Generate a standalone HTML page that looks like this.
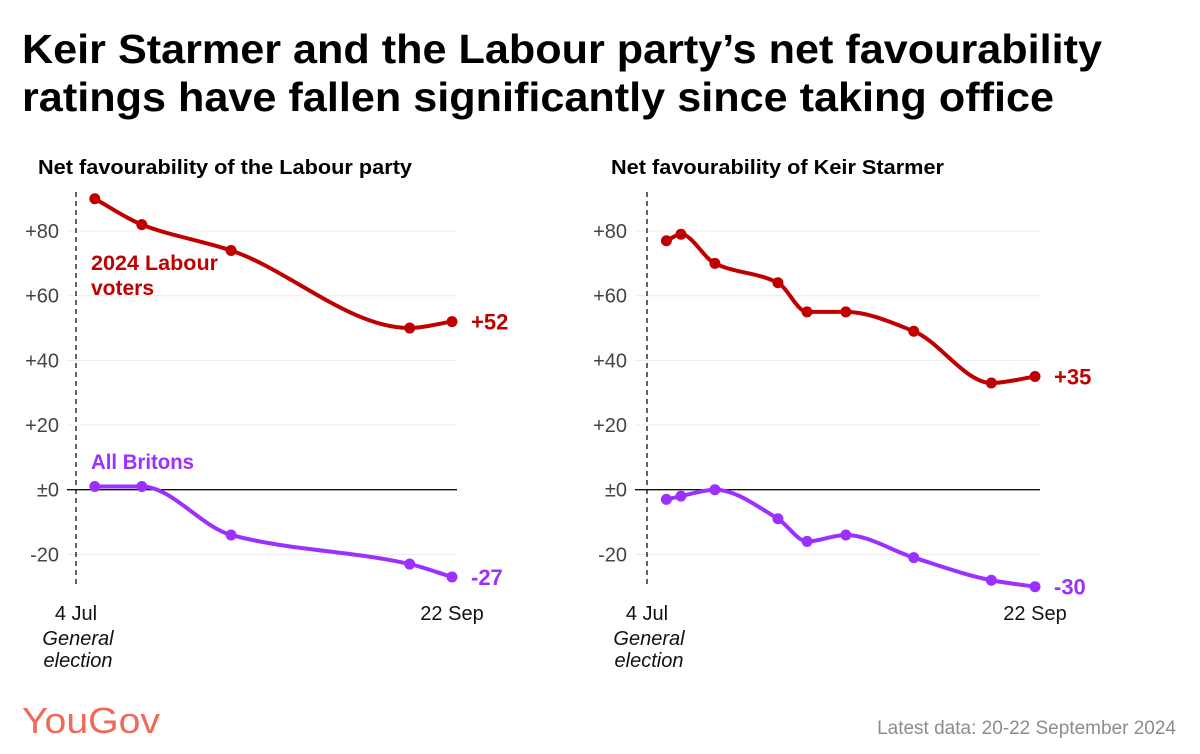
<!DOCTYPE html>
<html><head><meta charset="utf-8"><style>
html,body{margin:0;padding:0;background:#fff;}
svg{display:block;font-family:"Liberation Sans",Arial,sans-serif;}
</style></head><body>
<svg id="chart" width="1200" height="754" viewBox="0 0 1200 754" xmlns="http://www.w3.org/2000/svg">
<text x="22" y="63" font-size="41" font-weight="bold" fill="#000" textLength="1080" lengthAdjust="spacingAndGlyphs">Keir Starmer and the Labour party’s net favourability</text>
<text x="22" y="111" font-size="41" font-weight="bold" fill="#000" textLength="1032" lengthAdjust="spacingAndGlyphs">ratings have fallen significantly since taking office</text>
<text x="38" y="174" font-size="20" font-weight="bold" fill="#000" textLength="374" lengthAdjust="spacingAndGlyphs">Net favourability of the Labour party</text>
<text x="611" y="174" font-size="20" font-weight="bold" fill="#000" textLength="333" lengthAdjust="spacingAndGlyphs">Net favourability of Keir Starmer</text>
<g id="left"></g>
<g id="right"></g>
<text x="22" y="733" font-size="36" fill="#f06a5a" textLength="138" lengthAdjust="spacingAndGlyphs">YouGov</text>
<text x="1176" y="734" font-size="19" fill="#8c8c8c" text-anchor="end">Latest data: 20-22 September 2024</text>
</svg>
<script>
const yTicks = [80, 60, 40, 20, 0, -20];
const yTickLabels = ["+80", "+60", "+40", "+20", "±0", "-20"];
const leftDays = [4, 14, 33, 71, 80];
const leftLabour = [90, 82, 74, 50, 52];
const leftBritons = [1, 1, -14, -23, -27];
const rightDays = [4, 7, 14, 27, 33, 41, 55, 71, 80];
const rightLabour = [77, 79, 70, 64, 55, 55, 49, 33, 35];
const rightBritons = [-3, -2, 0, -9, -16, -14, -21, -28, -30];
const xTickLabels = ["4 Jul", "22 Sep"];
const xTickDays = [0, 80];

const NS = "http://www.w3.org/2000/svg";
function mk(parent, tag, attrs, text) {
  const e = document.createElementNS(NS, tag);
  for (const k in attrs) e.setAttribute(k, attrs[k]);
  if (text !== undefined) e.textContent = text;
  parent.appendChild(e);
  return e;
}
function monotone(pts) {
  const n = pts.length;
  if (n < 2) return "";
  const dx = [], s = [];
  for (let i = 0; i < n - 1; i++) { dx.push(pts[i+1][0]-pts[i][0]); s.push((pts[i+1][1]-pts[i][1])/dx[i]); }
  const m = [s[0]];
  for (let i = 1; i < n - 1; i++) {
    if (s[i-1]*s[i] <= 0) m.push(0);
    else { const w1 = 2*dx[i]+dx[i-1], w2 = dx[i]+2*dx[i-1]; m.push((w1+w2)/(w1/s[i-1]+w2/s[i])); }
  }
  m.push(s[n-2]);
  let d = "M" + pts[0][0] + "," + pts[0][1];
  for (let i = 0; i < n - 1; i++) {
    const h = dx[i] / 3;
    d += " C" + (pts[i][0]+h) + "," + (pts[i][1]+m[i]*h) + " " + (pts[i+1][0]-h) + "," + (pts[i+1][1]-m[i+1]*h) + " " + pts[i+1][0] + "," + pts[i+1][1];
  }
  return d;
}
function panel(g, cfg) {
  const x = d => cfg.x0 + (cfg.x1 - cfg.x0) * d / 80;
  const y = v => 489.7 - v * 3.233;
  yTicks.forEach((t, i) => {
    const line = mk(g, "line", {x1: cfg.gx0, x2: cfg.gx1, y1: y(t), y2: y(t), stroke: t === 0 ? "#111" : "#ececec", "stroke-width": t === 0 ? 1.3 : 1});
    
    
    const lab = mk(g, "text", {x: cfg.gx0 - 8, y: y(t) + 7, "font-size": 20, fill: "#444", "text-anchor": "end"}, yTickLabels[i]);
    
    
  });
  const ref = mk(g, "line", {x1: x(0), x2: x(0), y1: 192, y2: 586, stroke: "#111", "stroke-width": 1.3, "stroke-dasharray": "5,4"});
  
  
  xTickDays.forEach((d, i) => {
    const t = mk(g, "text", {x: x(d), y: 620, "font-size": 20, fill: "#111", "text-anchor": "middle"}, xTickLabels[i]);
    
    
  });
  const ge = mk(g, "text", {x: x(0) + 2, y: 645, "font-size": 20, "font-style": "italic", fill: "#111", "text-anchor": "middle"});
  
  
  mk(ge, "tspan", {x: x(0) + 2, dy: 0}, "General");
  mk(ge, "tspan", {x: x(0) + 2, dy: 22}, "election");
  [[cfg.red, "#c00000", "labour-voters"], [cfg.purple, "#9b30ff", "all-britons"]].forEach(([vals, col, nm]) => {
    const pts = cfg.days.map((d, i) => [x(d), y(vals[i])]);
    const p = mk(g, "path", {d: monotone(pts), fill: "none", stroke: col, "stroke-width": 4, "stroke-linejoin": "round"});
    
    
    pts.forEach(pt => {
      const c = mk(g, "circle", {cx: pt[0], cy: pt[1], r: 5.5, fill: col});
      
      
    });
    const last = vals[vals.length - 1];
    const lt = mk(g, "text", {x: x(80) + 19, y: y(last) + 8, "font-size": 22, "font-weight": "bold", fill: col}, (last > 0 ? "+" : "") + last);
    
    
  });
}
panel(document.getElementById("left"), {x0: 76, x1: 452, gx0: 67, gx1: 457, days: leftDays, red: leftLabour, purple: leftBritons});
panel(document.getElementById("right"), {x0: 647, x1: 1035, gx0: 635, gx1: 1040, days: rightDays, red: rightLabour, purple: rightBritons});
const L = document.getElementById("left");
const s1 = mk(L, "text", {x: 91, y: 270, "font-size": 21, "font-weight": "bold", fill: "#c00000"});


mk(s1, "tspan", {x: 91, dy: 0, textLength: 127, lengthAdjust: "spacingAndGlyphs"}, "2024 Labour");
mk(s1, "tspan", {x: 91, dy: 25}, "voters");
const s2 = mk(L, "text", {x: 91, y: 469, "font-size": 21, "font-weight": "bold", fill: "#9b30ff", textLength: 103, lengthAdjust: "spacingAndGlyphs"}, "All Britons");


</script>
</body></html>
